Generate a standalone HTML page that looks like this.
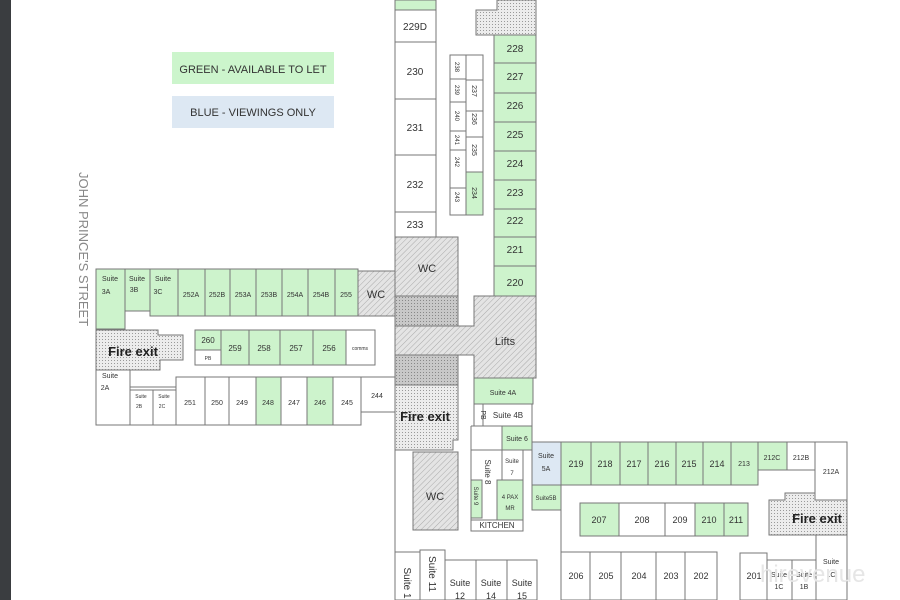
<!DOCTYPE html>
<html><head><meta charset="utf-8"><style>
html,body{margin:0;padding:0;background:#fff}
svg{display:block}
text{font-family:"Liberation Sans",sans-serif;fill:#333}
</style></head><body>
<svg width="900" height="600" viewBox="0 0 900 600" xmlns="http://www.w3.org/2000/svg">
<defs>
<pattern id="h" width="4" height="4" patternUnits="userSpaceOnUse" patternTransform="rotate(45)"><rect width="4" height="4" fill="#e4e4e4"/><line x1="0" y1="0" x2="0" y2="4" stroke="#aaa" stroke-width="1"/></pattern>
<pattern id="d" width="3" height="3" patternUnits="userSpaceOnUse"><rect width="3" height="3" fill="#ececec"/><rect width="1" height="1" fill="#999"/></pattern>
<pattern id="dd" width="3" height="3" patternUnits="userSpaceOnUse"><rect width="3" height="3" fill="#c8c8c8"/><rect width="1" height="1" fill="#888"/></pattern>
</defs>
<rect x="0" y="0" width="11" height="600" fill="#3a3d40"/>
<rect x="172" y="52" width="162" height="32" fill="#ccf5cc"/>
<text x="253" y="73" font-size="11" text-anchor="middle">GREEN - AVAILABLE TO LET</text>
<rect x="172" y="96" width="162" height="32" fill="#dde8f3"/>
<text x="253" y="116" font-size="11" text-anchor="middle">BLUE - VIEWINGS ONLY</text>
<text transform="translate(79,172) rotate(90)" font-size="13" fill="#777" style="fill:#888">JOHN PRINCE'S STREET</text>

<g stroke="#777" stroke-width="1" font-size="9">
<!-- outer corridor lines -->
<line x1="395" y1="0" x2="395" y2="600"/>
<line x1="536" y1="0" x2="536" y2="296"/>
<!-- left column -->
<rect x="395" y="0" width="41" height="10" fill="#cdf3cc"/>
<rect x="395" y="10" width="41" height="32" fill="#fff"/>
<rect x="395" y="42" width="41" height="57" fill="#fff"/>
<rect x="395" y="99" width="41" height="56" fill="#fff"/>
<rect x="395" y="155" width="41" height="57" fill="#fff"/>
<rect x="395" y="212" width="41" height="25" fill="#fff"/>
<!-- small column -->
<rect x="450" y="55" width="16" height="24" fill="#fff"/>
<rect x="450" y="79" width="16" height="23" fill="#fff"/>
<rect x="450" y="102" width="16" height="29" fill="#fff"/>
<rect x="450" y="131" width="16" height="19" fill="#fff"/>
<rect x="450" y="150" width="16" height="38" fill="#fff"/>
<rect x="450" y="188" width="16" height="27" fill="#fff"/>
<rect x="466" y="55" width="17" height="25" fill="#fff"/>
<rect x="466" y="80" width="17" height="31" fill="#fff"/>
<rect x="466" y="111" width="17" height="26" fill="#fff"/>
<rect x="466" y="137" width="17" height="35" fill="#fff"/>
<rect x="466" y="172" width="17" height="43" fill="#cdf3cc"/>
<!-- right column -->
<path d="M497 0 H536 V35 H476 V10 H497 Z" fill="url(#d)"/>
<rect x="494" y="35" width="42" height="28" fill="#cdf3cc"/>
<rect x="494" y="63" width="42" height="30" fill="#cdf3cc"/>
<rect x="494" y="93" width="42" height="29" fill="#cdf3cc"/>
<rect x="494" y="122" width="42" height="29" fill="#cdf3cc"/>
<rect x="494" y="151" width="42" height="29" fill="#cdf3cc"/>
<rect x="494" y="180" width="42" height="29" fill="#cdf3cc"/>
<rect x="494" y="209" width="42" height="28" fill="#cdf3cc"/>
<rect x="494" y="237" width="42" height="29" fill="#cdf3cc"/>
<rect x="494" y="266" width="42" height="30" fill="#cdf3cc"/>
<!-- core -->
<rect x="395" y="237" width="63" height="59" fill="url(#h)"/>
<rect x="395" y="296" width="63" height="30" fill="url(#dd)"/>
<path d="M395 326 H474 V296 H536 V378 H474 V355 H395 Z" fill="url(#h)"/>
<rect x="395" y="355" width="63" height="30" fill="url(#dd)"/>
<path d="M395 385 H458 V440 H453 V450 H395 Z" fill="url(#d)"/>
<rect x="413" y="452" width="45" height="78" fill="url(#h)"/>
<!-- left wing -->
<line x1="96" y1="269" x2="96" y2="425"/>
<line x1="96" y1="425" x2="361" y2="425"/>
<rect x="96" y="269" width="29" height="60" fill="#cdf3cc"/>
<rect x="125" y="269" width="25" height="42" fill="#cdf3cc"/>
<rect x="150" y="269" width="28" height="47" fill="#cdf3cc"/>
<rect x="178" y="269" width="27" height="47" fill="#cdf3cc"/>
<rect x="205" y="269" width="25" height="47" fill="#cdf3cc"/>
<rect x="230" y="269" width="26" height="47" fill="#cdf3cc"/>
<rect x="256" y="269" width="26" height="47" fill="#cdf3cc"/>
<rect x="282" y="269" width="26" height="47" fill="#cdf3cc"/>
<rect x="308" y="269" width="27" height="47" fill="#cdf3cc"/>
<rect x="335" y="269" width="23" height="47" fill="#cdf3cc"/>
<rect x="358" y="271" width="37" height="45" fill="url(#h)"/>
<path d="M96 330 H158 V335 H183 V360 H160 V370 H96 Z" fill="url(#d)"/>
<rect x="195" y="330" width="26" height="20" fill="#cdf3cc"/>
<rect x="195" y="350" width="26" height="15" fill="#fff"/>
<rect x="221" y="330" width="28" height="35" fill="#cdf3cc"/>
<rect x="249" y="330" width="31" height="35" fill="#cdf3cc"/>
<rect x="280" y="330" width="33" height="35" fill="#cdf3cc"/>
<rect x="313" y="330" width="33" height="35" fill="#cdf3cc"/>
<rect x="346" y="330" width="29" height="35" fill="#fff"/>
<rect x="96" y="370" width="34" height="55" fill="#fff"/>
<rect x="130" y="390" width="23" height="35" fill="#fff"/>
<rect x="153" y="390" width="23" height="35" fill="#fff"/>
<line x1="130" y1="387" x2="176" y2="387"/>
<rect x="176" y="377" width="29" height="48" fill="#fff"/>
<rect x="205" y="377" width="24" height="48" fill="#fff"/>
<rect x="229" y="377" width="27" height="48" fill="#fff"/>
<rect x="256" y="377" width="25" height="48" fill="#cdf3cc"/>
<rect x="281" y="377" width="26" height="48" fill="#fff"/>
<rect x="307" y="377" width="26" height="48" fill="#cdf3cc"/>
<rect x="333" y="377" width="28" height="48" fill="#fff"/>
<rect x="361" y="377" width="34" height="35" fill="#fff"/>
<!-- center lower -->
<rect x="474" y="378" width="59" height="26" fill="#cdf3cc"/>
<rect x="474" y="404" width="9" height="22" fill="#fff"/>
<rect x="483" y="404" width="49" height="22" fill="#fff"/>
<rect x="502" y="426" width="30" height="24" fill="#cdf3cc"/>
<path d="M471 450 H502 V520 H471 Z" fill="#fff"/>
<line x1="471" y1="426" x2="471" y2="450"/><line x1="471" y1="426" x2="502" y2="426"/>
<rect x="502" y="450" width="21" height="30" fill="#fff"/>
<rect x="497" y="480" width="26" height="40" fill="#cdf3cc"/>
<rect x="471" y="480" width="11" height="38" fill="#cdf3cc"/>
<rect x="471" y="520" width="52" height="11" fill="#fff"/>
<rect x="532" y="442" width="29" height="43" fill="#dde8f3"/>
<rect x="532" y="485" width="29" height="25" fill="#cdf3cc"/>
<!-- right wing -->
<line x1="561" y1="485" x2="561" y2="600"/>
<line x1="847" y1="442" x2="847" y2="600"/>
<rect x="561" y="442" width="30" height="43" fill="#cdf3cc"/>
<rect x="591" y="442" width="29" height="43" fill="#cdf3cc"/>
<rect x="620" y="442" width="28" height="43" fill="#cdf3cc"/>
<rect x="648" y="442" width="28" height="43" fill="#cdf3cc"/>
<rect x="676" y="442" width="27" height="43" fill="#cdf3cc"/>
<rect x="703" y="442" width="28" height="43" fill="#cdf3cc"/>
<rect x="731" y="442" width="27" height="43" fill="#cdf3cc"/>
<rect x="758" y="442" width="29" height="28" fill="#cdf3cc"/>
<rect x="787" y="442" width="28" height="28" fill="#fff"/>
<rect x="815" y="442" width="32" height="58" fill="#fff"/>
<rect x="580" y="503" width="39" height="33" fill="#cdf3cc"/>
<rect x="619" y="503" width="46" height="33" fill="#fff"/>
<rect x="665" y="503" width="30" height="33" fill="#fff"/>
<rect x="695" y="503" width="29" height="33" fill="#cdf3cc"/>
<rect x="724" y="503" width="24" height="33" fill="#cdf3cc"/>
<path d="M769 500 H785 V493 H815 V500 H847 V535 H769 Z" fill="url(#d)"/>
<rect x="561" y="552" width="29" height="48" fill="#fff"/>
<rect x="590" y="552" width="31" height="48" fill="#fff"/>
<rect x="621" y="552" width="35" height="48" fill="#fff"/>
<rect x="656" y="552" width="29" height="48" fill="#fff"/>
<rect x="685" y="552" width="32" height="48" fill="#fff"/>
<rect x="740" y="553" width="27" height="47" fill="#fff"/>
<rect x="767" y="560" width="25" height="40" fill="#fff"/>
<rect x="792" y="560" width="24" height="40" fill="#fff"/>
<rect x="816" y="535" width="31" height="65" fill="#fff"/>
<!-- bottom center -->
<rect x="395" y="552" width="25" height="48" fill="#fff"/>
<rect x="420" y="550" width="25" height="50" fill="#fff"/>
<rect x="445" y="560" width="31" height="40" fill="#fff"/>
<rect x="476" y="560" width="31" height="40" fill="#fff"/>
<rect x="507" y="560" width="30" height="40" fill="#fff"/>
</g>

<g font-size="10" text-anchor="middle">
<text x="415" y="30">229D</text><text x="415" y="75">230</text><text x="415" y="131">231</text><text x="415" y="188">232</text><text x="415" y="228">233</text>
<text x="515" y="52">228</text><text x="515" y="80">227</text><text x="515" y="109">226</text><text x="515" y="138">225</text><text x="515" y="167">224</text><text x="515" y="196">223</text><text x="515" y="224">222</text><text x="515" y="253">221</text><text x="515" y="286">220</text>
<text x="427" y="272" font-size="11">WC</text><text x="505" y="345" font-size="11">Lifts</text><text x="376" y="298" font-size="11">WC</text><text x="435" y="500" font-size="11">WC</text>
<text x="133" y="356" font-size="13" font-weight="bold" style="fill:#222">Fire exit</text>
<text x="425" y="421" font-size="13" font-weight="bold" style="fill:#222">Fire exit</text>
<text x="817" y="523" font-size="13" font-weight="bold" style="fill:#222">Fire exit</text>
</g>
<g font-size="7" text-anchor="middle">
<text x="110" y="281">Suite</text><text x="106" y="294">3A</text>
<text x="137" y="281">Suite</text><text x="134" y="292">3B</text>
<text x="163" y="281">Suite</text><text x="158" y="294">3C</text>
<text x="191" y="297">252A</text><text x="217" y="297">252B</text><text x="243" y="297">253A</text><text x="269" y="297">253B</text><text x="295" y="297">254A</text><text x="321" y="297">254B</text><text x="346" y="297">255</text>
<text x="208" y="343" font-size="8">260</text><text x="208" y="360" font-size="5">PB</text>
<text x="235" y="351" font-size="8">259</text><text x="264" y="351" font-size="8">258</text><text x="296" y="351" font-size="8">257</text><text x="329" y="351" font-size="8">256</text><text x="360" y="350" font-size="5">comms</text>
<text x="110" y="378">Suite</text><text x="105" y="390">2A</text>
<text x="141" y="398" font-size="5">Suite</text><text x="139" y="408" font-size="5">2B</text>
<text x="164" y="398" font-size="5">Suite</text><text x="162" y="408" font-size="5">2C</text>
<text x="190" y="405">251</text><text x="217" y="405">250</text><text x="242" y="405">249</text><text x="268" y="405">248</text><text x="294" y="405">247</text><text x="320" y="405">246</text><text x="347" y="405">245</text><text x="377" y="398">244</text>
<text x="503" y="395">Suite 4A</text><text x="508" y="418" font-size="8">Suite 4B</text><text x="517" y="441">Suite 6</text>
<text x="512" y="463" font-size="6">Suite</text><text x="512" y="475" font-size="6">7</text>
<text x="510" y="499" font-size="6">4 PAX</text><text x="510" y="510" font-size="6">MR</text>
<text x="497" y="528" font-size="8">KITCHEN</text>
<text x="546" y="458">Suite</text><text x="546" y="471">5A</text><text x="546" y="500" font-size="6">Suite5B</text>
<text x="576" y="467" font-size="9">219</text><text x="605" y="467" font-size="9">218</text><text x="634" y="467" font-size="9">217</text><text x="662" y="467" font-size="9">216</text><text x="689" y="467" font-size="9">215</text><text x="717" y="467" font-size="9">214</text><text x="744" y="466">213</text>
<text x="772" y="460">212C</text><text x="801" y="460">212B</text><text x="831" y="474">212A</text>
<text x="599" y="523" font-size="9">207</text><text x="642" y="523" font-size="9">208</text><text x="680" y="523" font-size="9">209</text><text x="709" y="523" font-size="9">210</text><text x="736" y="523" font-size="9">211</text>
<text x="576" y="579" font-size="9">206</text><text x="606" y="579" font-size="9">205</text><text x="639" y="579" font-size="9">204</text><text x="671" y="579" font-size="9">203</text><text x="701" y="579" font-size="9">202</text><text x="754" y="579" font-size="9">201</text>
<text x="779" y="577">Suite</text><text x="779" y="589">1C</text><text x="804" y="577">Suite</text><text x="804" y="589">1B</text>
<text x="831" y="564">Suite</text><text x="831" y="577">1C</text>
<text x="460" y="586" font-size="9">Suite</text><text x="460" y="599" font-size="9">12</text>
<text x="491" y="586" font-size="9">Suite</text><text x="491" y="599" font-size="9">14</text>
<text x="522" y="586" font-size="9">Suite</text><text x="522" y="599" font-size="9">15</text>
</g>
<g font-size="6" text-anchor="middle">
<text transform="translate(455,67) rotate(90)">238</text><text transform="translate(455,90) rotate(90)">239</text><text transform="translate(455,116) rotate(90)">240</text><text transform="translate(455,140) rotate(90)">241</text><text transform="translate(455,162) rotate(90)">242</text><text transform="translate(455,197) rotate(90)">243</text>
<text transform="translate(472,91) rotate(90)" font-size="7">237</text><text transform="translate(472,119) rotate(90)" font-size="7">236</text><text transform="translate(472,150) rotate(90)" font-size="7">235</text><text transform="translate(472,193) rotate(90)" font-size="7">234</text>
<text transform="translate(481,415) rotate(90)" font-size="7">PB</text>
<text transform="translate(485,472) rotate(90)" font-size="8">Suite 8</text>
<text transform="translate(474,496) rotate(90)" font-size="6">Suite 9</text>
<text transform="translate(404,583) rotate(90)" font-size="10">Suite 1</text>
<text transform="translate(429,574) rotate(90)" font-size="10">Suite 11</text>
</g>
<text x="760" y="582" font-size="24" style="fill:#e6e6e6">hirevenue</text>
</svg>
</body></html>
